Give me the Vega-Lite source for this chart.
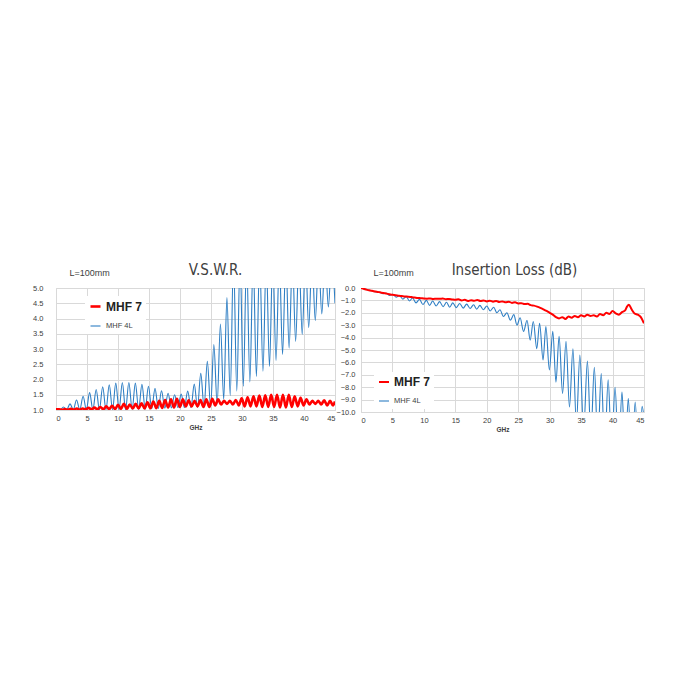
{
  "$schema": "https://vega.github.io/schema/vega-lite/v6.json",
  "background": "white",
  "padding": {"left": 32, "top": 262, "right": 0, "bottom": 0},
  "config": {
    "font": "Liberation Sans",
    "view": {"stroke": "#d9d9d9"},
    "axis": {
      "grid": true, "gridColor": "#d9d9d9", "domain": false, "ticks": false,
      "labelFontSize": 7.5, "labelColor": "#404040"
    },
    "title": {"font": "Liberation Sans Narrow, DejaVu Sans Condensed, Liberation Sans", "fontSize": 15, "fontWeight": "normal", "color": "#404040", "offset": -10}
  },
  "datasets": {
    "vswr": [
      {"f": 0, "v": 1.02, "s": "MHF 4L"}, {"f": 0.67, "v": 1.0, "s": "MHF 4L"}, {"f": 1.2, "v": 1.1, "s": "MHF 4L"},
      {"f": 1.73, "v": 1.01, "s": "MHF 4L"}, {"f": 2.26, "v": 1.2, "s": "MHF 4L"}, {"f": 2.79, "v": 1.01, "s": "MHF 4L"},
      {"f": 3.31, "v": 1.33, "s": "MHF 4L"}, {"f": 3.84, "v": 1.01, "s": "MHF 4L"}, {"f": 4.37, "v": 1.45, "s": "MHF 4L"},
      {"f": 4.9, "v": 1.01, "s": "MHF 4L"}, {"f": 5.42, "v": 1.57, "s": "MHF 4L"}, {"f": 5.95, "v": 1.01, "s": "MHF 4L"},
      {"f": 6.48, "v": 1.67, "s": "MHF 4L"}, {"f": 7.0, "v": 1.01, "s": "MHF 4L"}, {"f": 7.53, "v": 1.76, "s": "MHF 4L"},
      {"f": 8.06, "v": 1.01, "s": "MHF 4L"}, {"f": 8.59, "v": 1.83, "s": "MHF 4L"}, {"f": 9.12, "v": 1.01, "s": "MHF 4L"},
      {"f": 9.64, "v": 1.88, "s": "MHF 4L"}, {"f": 10.17, "v": 1.01, "s": "MHF 4L"}, {"f": 10.7, "v": 1.9, "s": "MHF 4L"},
      {"f": 11.22, "v": 1.01, "s": "MHF 4L"}, {"f": 11.75, "v": 1.9, "s": "MHF 4L"}, {"f": 12.28, "v": 1.02, "s": "MHF 4L"},
      {"f": 12.8, "v": 1.88, "s": "MHF 4L"}, {"f": 13.33, "v": 1.02, "s": "MHF 4L"}, {"f": 13.86, "v": 1.84, "s": "MHF 4L"},
      {"f": 14.39, "v": 1.03, "s": "MHF 4L"}, {"f": 14.91, "v": 1.78, "s": "MHF 4L"}, {"f": 15.44, "v": 1.04, "s": "MHF 4L"},
      {"f": 15.97, "v": 1.71, "s": "MHF 4L"}, {"f": 16.5, "v": 1.05, "s": "MHF 4L"}, {"f": 17.02, "v": 1.63, "s": "MHF 4L"},
      {"f": 17.55, "v": 1.06, "s": "MHF 4L"}, {"f": 18.08, "v": 1.55, "s": "MHF 4L"}, {"f": 18.6, "v": 1.07, "s": "MHF 4L"},
      {"f": 19.13, "v": 1.5, "s": "MHF 4L"}, {"f": 19.66, "v": 1.08, "s": "MHF 4L"}, {"f": 20.19, "v": 1.52, "s": "MHF 4L"},
      {"f": 20.71, "v": 1.08, "s": "MHF 4L"}, {"f": 21.24, "v": 1.62, "s": "MHF 4L"}, {"f": 21.77, "v": 1.08, "s": "MHF 4L"},
      {"f": 22.3, "v": 1.85, "s": "MHF 4L"}, {"f": 22.82, "v": 1.08, "s": "MHF 4L"}, {"f": 23.35, "v": 2.2, "s": "MHF 4L"},
      {"f": 23.88, "v": 1.09, "s": "MHF 4L"}, {"f": 24.41, "v": 2.6, "s": "MHF 4L"}, {"f": 24.94, "v": 1.1, "s": "MHF 4L"},
      {"f": 25.46, "v": 3.15, "s": "MHF 4L"}, {"f": 25.99, "v": 1.2, "s": "MHF 4L"}, {"f": 26.52, "v": 3.82, "s": "MHF 4L"},
      {"f": 27.05, "v": 1.35, "s": "MHF 4L"}, {"f": 27.57, "v": 4.69, "s": "MHF 4L"}, {"f": 28.1, "v": 1.47, "s": "MHF 4L"},
      {"f": 28.63, "v": 6, "s": "MHF 4L"}, {"f": 29.16, "v": 1.62, "s": "MHF 4L"}, {"f": 29.69, "v": 6, "s": "MHF 4L"},
      {"f": 30.21, "v": 1.78, "s": "MHF 4L"}, {"f": 30.74, "v": 6, "s": "MHF 4L"}, {"f": 31.27, "v": 1.92, "s": "MHF 4L"},
      {"f": 31.8, "v": 6, "s": "MHF 4L"}, {"f": 32.32, "v": 2.1, "s": "MHF 4L"}, {"f": 32.85, "v": 6, "s": "MHF 4L"},
      {"f": 33.38, "v": 2.27, "s": "MHF 4L"}, {"f": 33.91, "v": 6, "s": "MHF 4L"}, {"f": 34.43, "v": 2.43, "s": "MHF 4L"},
      {"f": 34.96, "v": 6, "s": "MHF 4L"}, {"f": 35.49, "v": 2.62, "s": "MHF 4L"}, {"f": 36.02, "v": 6, "s": "MHF 4L"},
      {"f": 36.54, "v": 2.82, "s": "MHF 4L"}, {"f": 37.07, "v": 6, "s": "MHF 4L"}, {"f": 37.6, "v": 3.03, "s": "MHF 4L"},
      {"f": 38.13, "v": 6, "s": "MHF 4L"}, {"f": 38.65, "v": 3.25, "s": "MHF 4L"}, {"f": 39.18, "v": 6, "s": "MHF 4L"},
      {"f": 39.71, "v": 3.48, "s": "MHF 4L"}, {"f": 40.24, "v": 6, "s": "MHF 4L"}, {"f": 40.76, "v": 3.7, "s": "MHF 4L"},
      {"f": 41.29, "v": 6, "s": "MHF 4L"}, {"f": 41.82, "v": 3.93, "s": "MHF 4L"}, {"f": 42.35, "v": 6, "s": "MHF 4L"},
      {"f": 42.87, "v": 4.15, "s": "MHF 4L"}, {"f": 43.4, "v": 6, "s": "MHF 4L"}, {"f": 43.93, "v": 4.38, "s": "MHF 4L"},
      {"f": 44.46, "v": 6, "s": "MHF 4L"}, {"f": 45, "v": 4.5, "s": "MHF 4L"},

      {"f": 0, "v": 1.02, "s": "MHF 7"}, {"f": 0.5, "v": 1.02, "s": "MHF 7"}, {"f": 0.98, "v": 1.01, "s": "MHF 7"},
      {"f": 1.45, "v": 1.03, "s": "MHF 7"}, {"f": 1.93, "v": 1.01, "s": "MHF 7"}, {"f": 2.4, "v": 1.04, "s": "MHF 7"},
      {"f": 2.88, "v": 1.01, "s": "MHF 7"}, {"f": 3.35, "v": 1.05, "s": "MHF 7"}, {"f": 3.83, "v": 1.01, "s": "MHF 7"},
      {"f": 4.3, "v": 1.05, "s": "MHF 7"}, {"f": 4.78, "v": 1.02, "s": "MHF 7"}, {"f": 5.25, "v": 1.07, "s": "MHF 7"},
      {"f": 5.73, "v": 1.02, "s": "MHF 7"}, {"f": 6.2, "v": 1.08, "s": "MHF 7"}, {"f": 6.68, "v": 1.02, "s": "MHF 7"},
      {"f": 7.15, "v": 1.1, "s": "MHF 7"}, {"f": 7.63, "v": 1.02, "s": "MHF 7"}, {"f": 8.1, "v": 1.12, "s": "MHF 7"},
      {"f": 8.58, "v": 1.03, "s": "MHF 7"}, {"f": 9.05, "v": 1.14, "s": "MHF 7"}, {"f": 9.53, "v": 1.03, "s": "MHF 7"},
      {"f": 10.0, "v": 1.17, "s": "MHF 7"}, {"f": 10.48, "v": 1.04, "s": "MHF 7"}, {"f": 10.95, "v": 1.2, "s": "MHF 7"},
      {"f": 11.43, "v": 1.04, "s": "MHF 7"}, {"f": 11.9, "v": 1.18, "s": "MHF 7"}, {"f": 12.38, "v": 1.05, "s": "MHF 7"},
      {"f": 12.85, "v": 1.2, "s": "MHF 7"}, {"f": 13.33, "v": 1.05, "s": "MHF 7"}, {"f": 13.8, "v": 1.22, "s": "MHF 7"},
      {"f": 14.28, "v": 1.05, "s": "MHF 7"}, {"f": 14.75, "v": 1.25, "s": "MHF 7"}, {"f": 15.23, "v": 1.06, "s": "MHF 7"},
      {"f": 15.7, "v": 1.28, "s": "MHF 7"}, {"f": 16.18, "v": 1.06, "s": "MHF 7"}, {"f": 16.65, "v": 1.3, "s": "MHF 7"},
      {"f": 17.13, "v": 1.07, "s": "MHF 7"}, {"f": 17.6, "v": 1.33, "s": "MHF 7"}, {"f": 18.08, "v": 1.08, "s": "MHF 7"},
      {"f": 18.55, "v": 1.35, "s": "MHF 7"}, {"f": 19.03, "v": 1.08, "s": "MHF 7"}, {"f": 19.5, "v": 1.37, "s": "MHF 7"},
      {"f": 19.98, "v": 1.1, "s": "MHF 7"}, {"f": 20.45, "v": 1.35, "s": "MHF 7"}, {"f": 20.93, "v": 1.12, "s": "MHF 7"},
      {"f": 21.4, "v": 1.32, "s": "MHF 7"}, {"f": 21.88, "v": 1.12, "s": "MHF 7"}, {"f": 22.35, "v": 1.3, "s": "MHF 7"},
      {"f": 22.83, "v": 1.12, "s": "MHF 7"}, {"f": 23.3, "v": 1.33, "s": "MHF 7"}, {"f": 23.78, "v": 1.1, "s": "MHF 7"},
      {"f": 24.25, "v": 1.35, "s": "MHF 7"}, {"f": 24.73, "v": 1.1, "s": "MHF 7"}, {"f": 25.2, "v": 1.37, "s": "MHF 7"},
      {"f": 25.68, "v": 1.15, "s": "MHF 7"}, {"f": 26.15, "v": 1.35, "s": "MHF 7"}, {"f": 26.63, "v": 1.18, "s": "MHF 7"},
      {"f": 27.1, "v": 1.3, "s": "MHF 7"}, {"f": 27.58, "v": 1.2, "s": "MHF 7"}, {"f": 28.05, "v": 1.3, "s": "MHF 7"},
      {"f": 28.53, "v": 1.18, "s": "MHF 7"}, {"f": 29.0, "v": 1.33, "s": "MHF 7"}, {"f": 29.48, "v": 1.15, "s": "MHF 7"},
      {"f": 29.95, "v": 1.38, "s": "MHF 7"}, {"f": 30.43, "v": 1.12, "s": "MHF 7"}, {"f": 30.9, "v": 1.42, "s": "MHF 7"},
      {"f": 31.38, "v": 1.12, "s": "MHF 7"}, {"f": 31.85, "v": 1.45, "s": "MHF 7"}, {"f": 32.33, "v": 1.12, "s": "MHF 7"},
      {"f": 32.8, "v": 1.47, "s": "MHF 7"}, {"f": 33.28, "v": 1.1, "s": "MHF 7"}, {"f": 33.75, "v": 1.48, "s": "MHF 7"},
      {"f": 34.23, "v": 1.1, "s": "MHF 7"}, {"f": 34.7, "v": 1.5, "s": "MHF 7"}, {"f": 35.18, "v": 1.1, "s": "MHF 7"},
      {"f": 35.65, "v": 1.5, "s": "MHF 7"}, {"f": 36.13, "v": 1.08, "s": "MHF 7"}, {"f": 36.6, "v": 1.5, "s": "MHF 7"},
      {"f": 37.08, "v": 1.08, "s": "MHF 7"}, {"f": 37.55, "v": 1.5, "s": "MHF 7"}, {"f": 38.03, "v": 1.1, "s": "MHF 7"},
      {"f": 38.5, "v": 1.45, "s": "MHF 7"}, {"f": 38.98, "v": 1.12, "s": "MHF 7"}, {"f": 39.45, "v": 1.4, "s": "MHF 7"},
      {"f": 39.93, "v": 1.15, "s": "MHF 7"}, {"f": 40.4, "v": 1.35, "s": "MHF 7"}, {"f": 40.88, "v": 1.18, "s": "MHF 7"},
      {"f": 41.35, "v": 1.3, "s": "MHF 7"}, {"f": 41.83, "v": 1.2, "s": "MHF 7"}, {"f": 42.3, "v": 1.3, "s": "MHF 7"},
      {"f": 42.78, "v": 1.18, "s": "MHF 7"}, {"f": 43.25, "v": 1.32, "s": "MHF 7"}, {"f": 43.73, "v": 1.15, "s": "MHF 7"},
      {"f": 44.2, "v": 1.3, "s": "MHF 7"}, {"f": 44.68, "v": 1.15, "s": "MHF 7"}, {"f": 45, "v": 1.28, "s": "MHF 7"}
    ],
    "il": [
      {"f": 0, "v": 0.0, "s": "MHF 4L"}, {"f": 0.7, "v": -0.1, "s": "MHF 4L"}, {"f": 1.3, "v": -0.18, "s": "MHF 4L"},
      {"f": 1.8, "v": -0.22, "s": "MHF 4L"}, {"f": 2.35, "v": -0.32, "s": "MHF 4L"}, {"f": 2.9, "v": -0.33, "s": "MHF 4L"},
      {"f": 3.45, "v": -0.45, "s": "MHF 4L"}, {"f": 4.0, "v": -0.42, "s": "MHF 4L"}, {"f": 4.55, "v": -0.6, "s": "MHF 4L"},
      {"f": 5.05, "v": -0.5, "s": "MHF 4L"}, {"f": 5.6, "v": -0.75, "s": "MHF 4L"}, {"f": 6.1, "v": -0.6, "s": "MHF 4L"},
      {"f": 6.65, "v": -0.9, "s": "MHF 4L"}, {"f": 7.2, "v": -0.7, "s": "MHF 4L"}, {"f": 7.7, "v": -1.05, "s": "MHF 4L"},
      {"f": 8.2, "v": -0.8, "s": "MHF 4L"}, {"f": 8.75, "v": -1.2, "s": "MHF 4L"}, {"f": 9.3, "v": -0.92, "s": "MHF 4L"},
      {"f": 9.85, "v": -1.33, "s": "MHF 4L"}, {"f": 10.4, "v": -1.0, "s": "MHF 4L"}, {"f": 10.9, "v": -1.4, "s": "MHF 4L"},
      {"f": 11.4, "v": -1.05, "s": "MHF 4L"}, {"f": 11.95, "v": -1.45, "s": "MHF 4L"}, {"f": 12.5, "v": -1.1, "s": "MHF 4L"},
      {"f": 13.05, "v": -1.5, "s": "MHF 4L"}, {"f": 13.6, "v": -1.15, "s": "MHF 4L"}, {"f": 14.1, "v": -1.55, "s": "MHF 4L"},
      {"f": 14.6, "v": -1.2, "s": "MHF 4L"}, {"f": 15.15, "v": -1.58, "s": "MHF 4L"}, {"f": 15.7, "v": -1.25, "s": "MHF 4L"},
      {"f": 16.25, "v": -1.62, "s": "MHF 4L"}, {"f": 16.8, "v": -1.3, "s": "MHF 4L"}, {"f": 17.35, "v": -1.65, "s": "MHF 4L"},
      {"f": 17.9, "v": -1.35, "s": "MHF 4L"}, {"f": 18.4, "v": -1.7, "s": "MHF 4L"}, {"f": 18.9, "v": -1.4, "s": "MHF 4L"},
      {"f": 19.45, "v": -1.75, "s": "MHF 4L"}, {"f": 20.0, "v": -1.45, "s": "MHF 4L"}, {"f": 20.55, "v": -1.85, "s": "MHF 4L"},
      {"f": 21.1, "v": -1.55, "s": "MHF 4L"}, {"f": 21.6, "v": -2.0, "s": "MHF 4L"}, {"f": 22.1, "v": -1.75, "s": "MHF 4L"},
      {"f": 22.65, "v": -2.3, "s": "MHF 4L"}, {"f": 23.2, "v": -2.0, "s": "MHF 4L"}, {"f": 23.75, "v": -2.6, "s": "MHF 4L"},
      {"f": 24.3, "v": -2.15, "s": "MHF 4L"}, {"f": 24.8, "v": -3.0, "s": "MHF 4L"}, {"f": 25.3, "v": -2.4, "s": "MHF 4L"},
      {"f": 25.85, "v": -3.5, "s": "MHF 4L"}, {"f": 26.4, "v": -2.6, "s": "MHF 4L"}, {"f": 26.9, "v": -4.2, "s": "MHF 4L"},
      {"f": 27.4, "v": -2.7, "s": "MHF 4L"}, {"f": 27.95, "v": -4.9, "s": "MHF 4L"}, {"f": 28.4, "v": -2.85, "s": "MHF 4L"},
      {"f": 28.95, "v": -5.8, "s": "MHF 4L"}, {"f": 29.4, "v": -3.1, "s": "MHF 4L"}, {"f": 29.95, "v": -6.6, "s": "MHF 4L"},
      {"f": 30.5, "v": -3.5, "s": "MHF 4L"}, {"f": 31.0, "v": -7.6, "s": "MHF 4L"}, {"f": 31.5, "v": -3.9, "s": "MHF 4L"},
      {"f": 32.05, "v": -8.5, "s": "MHF 4L"}, {"f": 32.6, "v": -4.3, "s": "MHF 4L"}, {"f": 33.15, "v": -9.6, "s": "MHF 4L"},
      {"f": 33.7, "v": -4.9, "s": "MHF 4L"}, {"f": 34.25, "v": -11, "s": "MHF 4L"}, {"f": 34.8, "v": -5.4, "s": "MHF 4L"},
      {"f": 35.4, "v": -11.5, "s": "MHF 4L"}, {"f": 36.0, "v": -5.9, "s": "MHF 4L"}, {"f": 36.55, "v": -12, "s": "MHF 4L"},
      {"f": 37.1, "v": -6.4, "s": "MHF 4L"}, {"f": 37.65, "v": -12.5, "s": "MHF 4L"}, {"f": 38.2, "v": -6.9, "s": "MHF 4L"},
      {"f": 38.75, "v": -13, "s": "MHF 4L"}, {"f": 39.3, "v": -7.4, "s": "MHF 4L"}, {"f": 39.85, "v": -13, "s": "MHF 4L"},
      {"f": 40.4, "v": -8.0, "s": "MHF 4L"}, {"f": 40.95, "v": -13.5, "s": "MHF 4L"}, {"f": 41.5, "v": -8.4, "s": "MHF 4L"},
      {"f": 42.0, "v": -13.5, "s": "MHF 4L"}, {"f": 42.5, "v": -8.9, "s": "MHF 4L"}, {"f": 43.05, "v": -14, "s": "MHF 4L"},
      {"f": 43.6, "v": -9.2, "s": "MHF 4L"}, {"f": 44.15, "v": -14, "s": "MHF 4L"}, {"f": 44.7, "v": -9.55, "s": "MHF 4L"},
      {"f": 45, "v": -10.5, "s": "MHF 4L"},

      {"f": 0, "v": 0.0, "s": "MHF 7"}, {"f": 0.5, "v": -0.08, "s": "MHF 7"}, {"f": 1, "v": -0.15, "s": "MHF 7"},
      {"f": 1.5, "v": -0.2, "s": "MHF 7"}, {"f": 2, "v": -0.26, "s": "MHF 7"}, {"f": 2.5, "v": -0.3, "s": "MHF 7"},
      {"f": 3, "v": -0.35, "s": "MHF 7"}, {"f": 3.5, "v": -0.4, "s": "MHF 7"}, {"f": 4, "v": -0.45, "s": "MHF 7"},
      {"f": 4.5, "v": -0.5, "s": "MHF 7"}, {"f": 5, "v": -0.55, "s": "MHF 7"}, {"f": 5.5, "v": -0.58, "s": "MHF 7"},
      {"f": 6, "v": -0.62, "s": "MHF 7"}, {"f": 6.5, "v": -0.65, "s": "MHF 7"}, {"f": 7, "v": -0.68, "s": "MHF 7"},
      {"f": 7.5, "v": -0.7, "s": "MHF 7"}, {"f": 8, "v": -0.73, "s": "MHF 7"}, {"f": 8.5, "v": -0.76, "s": "MHF 7"},
      {"f": 9, "v": -0.8, "s": "MHF 7"}, {"f": 9.5, "v": -0.82, "s": "MHF 7"}, {"f": 10, "v": -0.85, "s": "MHF 7"},
      {"f": 10.5, "v": -0.86, "s": "MHF 7"}, {"f": 11, "v": -0.84, "s": "MHF 7"}, {"f": 11.5, "v": -0.88, "s": "MHF 7"},
      {"f": 12, "v": -0.86, "s": "MHF 7"}, {"f": 12.5, "v": -0.87, "s": "MHF 7"}, {"f": 13, "v": -0.85, "s": "MHF 7"},
      {"f": 13.5, "v": -0.9, "s": "MHF 7"}, {"f": 14, "v": -0.88, "s": "MHF 7"}, {"f": 14.5, "v": -0.92, "s": "MHF 7"},
      {"f": 15, "v": -0.95, "s": "MHF 7"}, {"f": 15.5, "v": -0.9, "s": "MHF 7"}, {"f": 16, "v": -1.0, "s": "MHF 7"},
      {"f": 16.5, "v": -0.95, "s": "MHF 7"}, {"f": 17, "v": -1.05, "s": "MHF 7"}, {"f": 17.5, "v": -0.98, "s": "MHF 7"},
      {"f": 18, "v": -1.03, "s": "MHF 7"}, {"f": 18.5, "v": -0.97, "s": "MHF 7"}, {"f": 19, "v": -1.05, "s": "MHF 7"},
      {"f": 19.5, "v": -1.0, "s": "MHF 7"}, {"f": 20, "v": -1.08, "s": "MHF 7"}, {"f": 20.5, "v": -1.02, "s": "MHF 7"},
      {"f": 21, "v": -1.1, "s": "MHF 7"}, {"f": 21.5, "v": -1.05, "s": "MHF 7"}, {"f": 22, "v": -1.12, "s": "MHF 7"},
      {"f": 22.5, "v": -1.08, "s": "MHF 7"}, {"f": 23, "v": -1.15, "s": "MHF 7"}, {"f": 23.5, "v": -1.1, "s": "MHF 7"},
      {"f": 24, "v": -1.2, "s": "MHF 7"}, {"f": 24.5, "v": -1.15, "s": "MHF 7"}, {"f": 25, "v": -1.25, "s": "MHF 7"},
      {"f": 25.5, "v": -1.22, "s": "MHF 7"}, {"f": 26, "v": -1.3, "s": "MHF 7"}, {"f": 26.5, "v": -1.28, "s": "MHF 7"},
      {"f": 27, "v": -1.38, "s": "MHF 7"}, {"f": 27.5, "v": -1.42, "s": "MHF 7"}, {"f": 28, "v": -1.5, "s": "MHF 7"},
      {"f": 28.5, "v": -1.6, "s": "MHF 7"}, {"f": 29, "v": -1.72, "s": "MHF 7"}, {"f": 29.5, "v": -1.85, "s": "MHF 7"},
      {"f": 30, "v": -2.0, "s": "MHF 7"}, {"f": 30.5, "v": -2.15, "s": "MHF 7"}, {"f": 31, "v": -2.35, "s": "MHF 7"},
      {"f": 31.5, "v": -2.45, "s": "MHF 7"}, {"f": 32, "v": -2.35, "s": "MHF 7"}, {"f": 32.5, "v": -2.5, "s": "MHF 7"},
      {"f": 33, "v": -2.3, "s": "MHF 7"}, {"f": 33.5, "v": -2.4, "s": "MHF 7"}, {"f": 34, "v": -2.25, "s": "MHF 7"},
      {"f": 34.5, "v": -2.35, "s": "MHF 7"}, {"f": 35, "v": -2.2, "s": "MHF 7"}, {"f": 35.5, "v": -2.3, "s": "MHF 7"},
      {"f": 36, "v": -2.15, "s": "MHF 7"}, {"f": 36.5, "v": -2.25, "s": "MHF 7"}, {"f": 37, "v": -2.2, "s": "MHF 7"},
      {"f": 37.5, "v": -2.3, "s": "MHF 7"}, {"f": 38, "v": -2.1, "s": "MHF 7"}, {"f": 38.5, "v": -2.2, "s": "MHF 7"},
      {"f": 39, "v": -2.0, "s": "MHF 7"}, {"f": 39.5, "v": -2.1, "s": "MHF 7"}, {"f": 40, "v": -1.85, "s": "MHF 7"},
      {"f": 40.5, "v": -2.05, "s": "MHF 7"}, {"f": 41, "v": -2.15, "s": "MHF 7"}, {"f": 41.5, "v": -1.95, "s": "MHF 7"},
      {"f": 42, "v": -1.8, "s": "MHF 7"}, {"f": 42.3, "v": -1.5, "s": "MHF 7"}, {"f": 42.6, "v": -1.35, "s": "MHF 7"},
      {"f": 43, "v": -1.7, "s": "MHF 7"}, {"f": 43.5, "v": -2.05, "s": "MHF 7"}, {"f": 44, "v": -2.15, "s": "MHF 7"},
      {"f": 44.5, "v": -2.35, "s": "MHF 7"}, {"f": 45, "v": -2.85, "s": "MHF 7"}
    ]
  },
  "hconcat": [
    {
      "width": 279,
      "height": 122,
      "title": {"text": "V.S.W.R.", "dx": 20},
      "data": {"name": "vswr"},
      "mark": {"type": "line", "interpolate": "monotone", "clip": true},
      "encoding": {
        "x": {
          "field": "f", "type": "quantitative", "title": "GHz",
          "scale": {"domain": [0, 45], "nice": false},
          "axis": {"values": [0, 5, 10, 15, 20, 25, 30, 35, 40, 45], "labelPadding": 4, "titleFontSize": 6.5, "titleFontWeight": "bold", "titlePadding": 3, "titleColor": "#404040"}
        },
        "y": {
          "field": "v", "type": "quantitative", "title": "L=100mm",
          "scale": {"domain": [1, 5], "nice": false},
          "axis": {
            "values": [1, 1.5, 2, 2.5, 3, 3.5, 4, 4.5, 5], "format": ".1f", "labelPadding": 13,
            "titleAngle": 0, "titleAlign": "left", "titleBaseline": "alphabetic", "titleX": 13, "titleY": -13,
            "titleFontSize": 9, "titleFontWeight": "normal", "titleColor": "#404040"
          }
        },
        "color": {
          "field": "s", "type": "nominal", "title": null,
          "scale": {"domain": ["MHF 7", "MHF 4L"], "range": ["#ff0000", "#2f7fc4"]},
          "legend": {
            "orient": "none", "legendX": 29, "legendY": 8, "fillColor": "white", "padding": 4,
            "symbolType": "stroke", "symbolSize": 100, "symbolStrokeWidth": 3, "rowPadding": 7, "labelColor": "#404040",
            "encode": {
              "labels": {"update": {
                "fontSize": {"signal": "datum.label === 'MHF 7' ? 12 : 7.5"},
                "fontWeight": {"signal": "datum.label === 'MHF 7' ? 'bold' : 'normal'"},
                "fill": {"signal": "datum.label === 'MHF 7' ? '#222222' : '#404040'"}
              }},
              "symbols": {"update": {"strokeWidth": {"signal": "datum.label === 'MHF 7' ? 3 : 1.2"}}}
            }
          }
        },
        "strokeWidth": {
          "field": "s", "type": "nominal", "legend": null,
          "scale": {"domain": ["MHF 7", "MHF 4L"], "range": [2.6, 1.1]}
        },
        "order": {"field": "f", "type": "quantitative"}
      }
    },
    {
      "width": 283,
      "height": 124,
      "title": {"text": "Insertion Loss (dB)", "dx": 12},
      "data": {"name": "il"},
      "mark": {"type": "line", "interpolate": "monotone", "clip": true},
      "encoding": {
        "x": {
          "field": "f", "type": "quantitative", "title": "GHz",
          "scale": {"domain": [0, 45], "nice": false},
          "axis": {"values": [0, 5, 10, 15, 20, 25, 30, 35, 40, 45], "labelPadding": 4, "titleFontSize": 6.5, "titleFontWeight": "bold", "titlePadding": 3, "titleColor": "#404040"}
        },
        "y": {
          "field": "v", "type": "quantitative", "title": "L=100mm",
          "scale": {"domain": [-10, 0], "nice": false},
          "axis": {
            "values": [-10, -9, -8, -7, -6, -5, -4, -3, -2, -1, 0], "format": ".1f", "labelPadding": 6,
            "titleAngle": 0, "titleAlign": "left", "titleBaseline": "alphabetic", "titleX": 12, "titleY": -13,
            "titleFontSize": 9, "titleFontWeight": "normal", "titleColor": "#404040"
          }
        },
        "color": {
          "field": "s", "type": "nominal", "title": null,
          "scale": {"domain": ["MHF 7", "MHF 4L"], "range": ["#ff0000", "#2f7fc4"]},
          "legend": {
            "orient": "none", "legendX": 13, "legendY": 84, "fillColor": "white", "padding": 4,
            "symbolType": "stroke", "symbolSize": 100, "symbolStrokeWidth": 3, "rowPadding": 7, "labelColor": "#404040",
            "encode": {
              "labels": {"update": {
                "fontSize": {"signal": "datum.label === 'MHF 7' ? 12 : 7.5"},
                "fontWeight": {"signal": "datum.label === 'MHF 7' ? 'bold' : 'normal'"},
                "fill": {"signal": "datum.label === 'MHF 7' ? '#222222' : '#404040'"}
              }},
              "symbols": {"update": {"strokeWidth": {"signal": "datum.label === 'MHF 7' ? 3 : 1.2"}}}
            }
          }
        },
        "strokeWidth": {
          "field": "s", "type": "nominal", "legend": null,
          "scale": {"domain": ["MHF 7", "MHF 4L"], "range": [2.0, 1.1]}
        },
        "order": {"field": "f", "type": "quantitative"}
      }
    }
  ],
  "spacing": -1,
  "resolve": {"scale": {"color": "independent", "strokeWidth": "independent", "x": "independent", "y": "independent"}, "legend": {"color": "independent"}}
}
